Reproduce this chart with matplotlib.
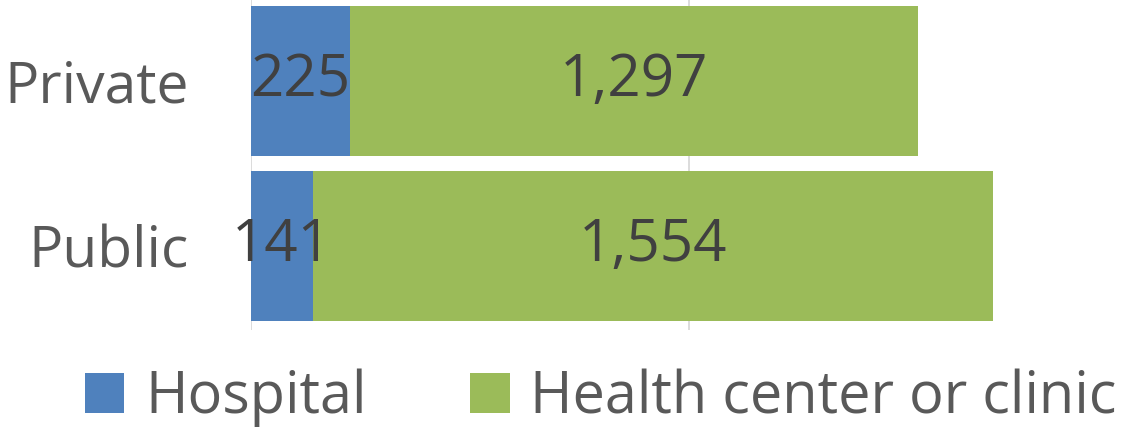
import matplotlib.pyplot as plt

categories = ["Public", "Private"]
hospital = [141, 225]
health_center = [1554, 1297]
series_names = ["Hospital", "Health center or clinic"]

blue = "#4F81BD"
green = "#9BBB59"
label_color = "#404040"
axis_text = "#595959"

plt.rcParams["font.family"] = ["Open Sans", "DejaVu Sans"]

fig = plt.figure(figsize=(11.24, 4.30), dpi=100)
ax = fig.add_axes([251 / 1124, 1 - 330 / 430, 876 / 1124, 330 / 430])

y = list(range(len(categories)))
bars_h = ax.barh(y, hospital, height=0.91, color=blue, label=series_names[0])
bars_c = ax.barh(y, health_center, left=hospital, height=0.91, color=green,
                 label=series_names[1])

# Labels centred in each segment.
for yi, h, c in zip(y, hospital, health_center):
    ax.text(h / 2, yi, f"{h:,}", ha="center", va="center",
            fontsize=42, color=label_color)
    ax.text(h + c / 2, yi, f"{c:,}", ha="center", va="center",
            fontsize=42, color=label_color)

ax.set_xlim(0, 2000)
ax.set_ylim(-0.51, 1.49)
ax.set_xticks([0, 1000, 2000])
ax.set_xticklabels([])
ax.tick_params(axis="x", length=0)
ax.set_yticks(y)
ax.set_yticklabels(categories, fontsize=41, color=axis_text)
ax.tick_params(axis="y", length=0, pad=45)
ax.xaxis.grid(True, color="#D9D9D9", linewidth=1.3)
ax.set_axisbelow(True)
for s in ax.spines.values():
    s.set_visible(False)

fig.legend(handles=[bars_h, bars_c], loc="center",
           bbox_to_anchor=(601 / 1124, 1 - 398 / 430), ncol=2, frameon=False,
           fontsize=41.5, handlelength=0.68, handleheight=0.68,
           handletextpad=0.36, columnspacing=1.8, labelcolor=axis_text,
           borderaxespad=0, borderpad=0)

fig.savefig("out.png", dpi=100)
